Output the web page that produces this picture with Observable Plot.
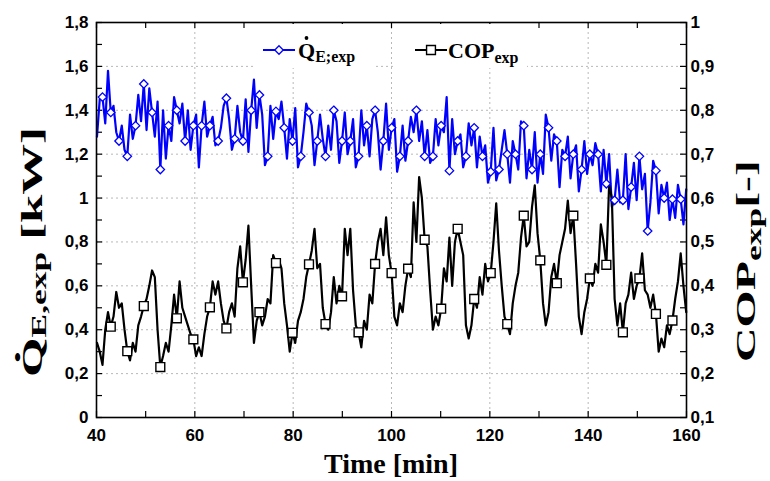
<!DOCTYPE html>
<html><head><meta charset="utf-8">
<script src="https://cdn.jsdelivr.net/npm/d3@7"></script>
<script src="https://cdn.jsdelivr.net/npm/@observablehq/plot@0.6"></script>
<style>html,body{margin:0;padding:0;background:#fff}svg{display:block}</style>
</head><body><div id="chart"></div>
<script>
// ---- data ----
const tStart = 40.1;      // first sample time [min]
const tStep = 0.56;       // sampling step [min]
// Q_E,exp [kW] (left axis)
const qeValues = [
1.28,1.45,1.46, 1.34,1.58,1.39, 1.42,1.30,1.26, 1.33,1.22,1.19, 1.38,1.27,1.33,
1.47,1.35,1.52, 1.31,1.50,1.39, 1.28,1.44,1.13, 1.40,1.18,1.33, 1.26,1.46,1.40,
1.34,1.43,1.26, 1.40,1.22,1.33, 1.38,1.14,1.33, 1.44,1.28,1.33, 1.37,1.24,1.26,
1.32,1.42,1.455, 1.36,1.22,1.27, 1.42,1.30,1.26, 1.45,1.21,1.40, 1.54,1.32,1.47,
1.38,1.15,1.19, 1.42,1.27,1.395, 1.36,1.44,1.32, 1.18,1.36,1.26, 1.41,1.14,1.19,
1.30,1.43,1.39, 1.33,1.15,1.26, 1.38,1.27,1.19, 1.33,1.22,1.40, 1.35,1.16,1.26,
1.39,1.20,1.26, 1.36,1.14,1.19, 1.40,1.24,1.33, 1.19,1.36,1.40, 1.30,1.13,1.26,
1.43,1.22,1.32, 1.36,1.12,1.19, 1.33,1.17,1.26, 1.37,1.30,1.40, 1.26,1.35,1.19,
1.31,1.16,1.19, 1.36,1.24,1.33, 1.30,1.46,1.125, 1.36,1.20,1.26, 1.29,1.14,1.19,
1.34,1.24,1.32, 1.14,1.28,1.19, 1.24,1.07,1.12, 1.32,1.08,1.13, 1.22,1.31,1.20,
1.07,1.26,1.20, 1.13,1.35,1.33, 1.09,1.22,1.13, 1.30,1.07,1.20, 1.11,1.38,1.32,
1.17,1.29,1.26, 1.05,1.22,1.19, 1.28,1.09,1.20, 1.24,1.03,1.13, 1.26,1.11,1.20,
1.15,1.25,1.20, 1.03,1.22,1.065, 1.20,0.96,0.99, 1.13,0.98,0.99, 1.20,0.95,1.05,
1.16,0.99,1.19, 1.04,1.11,0.85, 0.98,1.17,1.125, 0.93,1.06,1.00, 1.07,0.90,0.995,
0.91,1.06,0.995, 0.88,1.04
];
// COP_exp [-] (right axis)
const copValues = [
0.27,0.25,0.22,0.30,0.34,0.307,  0.33,0.386,0.35,0.36,0.30,0.251,
0.23,0.27,0.25,0.31,0.33,0.354,  0.37,0.40,0.435,0.42,0.30,0.215,
0.24,0.27,0.25,0.31,0.38,0.326,  0.41,0.35,0.33,0.31,0.29,0.278,
0.24,0.26,0.24,0.29,0.33,0.351,  0.41,0.38,0.41,0.36,0.32,0.303,
0.34,0.36,0.33,0.44,0.49,0.408,  0.46,0.537,0.40,0.27,0.32,0.34,
0.31,0.33,0.37,0.36,0.47,0.452,  0.46,0.44,0.36,0.31,0.25,0.293,
0.27,0.32,0.34,0.37,0.42,0.449,  0.48,0.53,0.44,0.45,0.35,0.313,
0.30,0.34,0.42,0.36,0.40,0.376,  0.53,0.47,0.53,0.39,0.31,0.294,
0.26,0.32,0.30,0.38,0.36,0.45,   0.50,0.53,0.47,0.556,0.47,0.429,
0.33,0.31,0.36,0.34,0.40,0.439,  0.42,0.59,0.50,0.648,0.60,0.505,
0.49,0.39,0.30,0.33,0.31,0.348,  0.44,0.41,0.51,0.40,0.50,0.53,
0.50,0.47,0.31,0.28,0.31,0.37,   0.35,0.42,0.38,0.45,0.41,0.429,
0.50,0.588,0.48,0.40,0.33,0.313, 0.29,0.36,0.40,0.43,0.51,0.56,
0.49,0.50,0.58,0.629,0.52,0.458, 0.36,0.31,0.34,0.42,0.45,0.406,
0.47,0.50,0.53,0.594,0.52,0.56,  0.45,0.33,0.29,0.34,0.37,0.417,
0.40,0.45,0.43,0.54,0.50,0.448,  0.63,0.60,0.37,0.31,0.36,0.294,
0.36,0.38,0.43,0.37,0.40,0.417,  0.474,0.39,0.38,0.35,0.38,0.336,
0.25,0.28,0.26,0.31,0.29,0.321,  0.37,0.41,0.474,0.40,0.34
];
const xTickLabels = [40, 60, 80, 100, 120, 140, 160];
const xMinorTicks = [40, 50, 60, 70, 80, 90, 100, 110, 120, 130, 140, 150, 160];
const xGrid = [60, 80, 100, 120, 140];
const yTickLabels = [0, 0.2, 0.4, 0.6, 0.8, 1, 1.2, 1.4, 1.6, 1.8];
const yMinorTicks = [0,0.1,0.2,0.3,0.4,0.5,0.6,0.7,0.8,0.9,1,1.1,1.2,1.3,1.4,1.5,1.6,1.7,1.8];
const yGrid = [0.2, 0.4, 0.6, 0.8, 1, 1.2, 1.4, 1.6];

// right axis: COP 0.1 … 1 shares the left axis range 0 … 1.8
const copToQ = c => (c - 0.1) * 2;
const qToCop = q => 0.1 + q / 2;
const comma = v => String(+v.toFixed(2)).replace(".", ",");

const qe = qeValues.map((v, i) => ({i, t: tStart + i * tStep, v}));
const cop = copValues.map((v, i) => ({i, t: tStart + i * tStep, v}));

const W = 770, H = 481, mL = 96, mR = 84, mT = 22, mB = 64;
const innerW = W - mL - mR, innerH = H - mT - mB;
const gridStyle = {stroke: "#b8b8b8", strokeOpacity: 1, strokeDasharray: "2,3", strokeWidth: 1};

const plot = Plot.plot({
  width: W, height: H,
  marginLeft: mL, marginRight: mR, marginTop: mT, marginBottom: mB,
  style: {fontFamily: "'Liberation Sans', Arial, sans-serif", fontSize: "17px", fontWeight: "bold", color: "black", background: "white"},
  x: {domain: [40, 160]},
  y: {domain: [0, 1.8]},
  marks: [
    Plot.gridX(xGrid, gridStyle),
    Plot.gridY(yGrid, gridStyle),
    Plot.tickX(xMinorTicks, {x: d => d, insetTop: innerH - 6, stroke: "black", strokeWidth: 1.2}),
    Plot.tickX(xMinorTicks, {x: d => d, insetBottom: innerH - 6, stroke: "black", strokeWidth: 1.2}),
    Plot.tickY(yMinorTicks, {y: d => d, insetRight: innerW - 6, stroke: "black", strokeWidth: 1.2}),
    Plot.tickY(yMinorTicks, {y: d => d, insetLeft: innerW - 6, stroke: "black", strokeWidth: 1.2}),
    Plot.line(qe, {x: "t", y: "v", stroke: "#0000ff", strokeWidth: 2.2}),
    Plot.line(cop, {x: "t", y: d => copToQ(d.v), stroke: "black", strokeWidth: 2.2}),
    Plot.dot(qe.filter(d => d.i % 3 === 2), {x: "t", y: "v", symbol: "diamond2", r: 3.8, stroke: "#0000ff", fill: "white", strokeWidth: 1.3}),
    Plot.dot(cop.filter(d => d.i % 6 === 5), {x: "t", y: d => copToQ(d.v), symbol: "square", r: 5, stroke: "black", fill: "white", strokeWidth: 1.4}),
    Plot.frame({stroke: "black", strokeWidth: 1.6}),
    Plot.axisX({ticks: xTickLabels, tickSize: 0, tickPadding: 11, tickFormat: d => String(d), label: null}),
    Plot.axisY({ticks: yTickLabels, tickSize: 0, tickPadding: 8, tickFormat: comma, label: null}),
    Plot.axisY({anchor: "right", ticks: yTickLabels, tickSize: 0, tickPadding: 4, tickFormat: q => comma(qToCop(q)), label: null})
  ]
});
document.getElementById("chart").appendChild(plot);

// ---- titles & legend (rich text with subscripts) ----
const svg = d3.select(plot);
const xs = plot.scale("x");
const serif = "'Liberation Serif', 'Times New Roman', serif";

// x title
svg.append("text").attr("x", xs.apply(100)).attr("y", 473)
  .attr("text-anchor", "middle").attr("font-family", serif).attr("font-weight", "bold")
  .attr("font-size", 28).attr("fill", "black").text("Time [min]");

function rotTitle(cx, cy, targetLen, build) {
  const g = svg.append("g").attr("transform", `translate(${cx},${cy})`);
  const inner = g.append("g");
  const t = inner.append("text").attr("text-anchor", "middle").attr("font-family", serif)
    .attr("font-weight", "bold").attr("fill", "black");
  build(t);
  const w = t.node().getBBox().width;
  const k = targetLen / w;
  inner.attr("transform", `scale(1,${k}) rotate(-90)`);
}
// left title: Q̇E,exp [kW]
rotTitle(42, 252, 250, t => {
  t.attr("font-size", 30);
  t.append("tspan").text("Q");
  t.append("tspan").attr("font-size", 18).attr("dx", -14.8).attr("dy", -18).text("•");
  t.append("tspan").attr("font-size", 21).attr("dx", 8.5).attr("dy", 22).text("E,exp");
  t.append("tspan").attr("dx", 7).attr("dy", -4).text("[kW]");
});
// right title: COPexp[-]
rotTitle(755, 261, 202, t => {
  t.attr("font-size", 27);
  t.append("tspan").text("COP");
  t.append("tspan").attr("font-size", 20).attr("dy", 6).text("exp");
  t.append("tspan").attr("dy", -6).text("[-]");
});

// legend
const lg = svg.append("g");
lg.append("rect").attr("x", 255).attr("y", 24).attr("width", 119).attr("height", 44).attr("fill", "white");
lg.append("rect").attr("x", 394).attr("y", 24).attr("width", 133).attr("height", 44).attr("fill", "white");
lg.append("line").attr("x1", 263).attr("x2", 295).attr("y1", 50).attr("y2", 50).attr("stroke", "#0000ff").attr("stroke-width", 2);
lg.append("path").attr("d", d3.symbol(d3.symbolDiamond2, Math.PI * 3.8 * 3.8)()).attr("transform", "translate(279,50)")
  .attr("fill", "white").attr("stroke", "#0000ff").attr("stroke-width", 1.3);
const l1 = lg.append("text").attr("x", 298).attr("y", 58).attr("text-anchor", "start").attr("font-family", serif).attr("font-weight", "bold").attr("font-size", 22).attr("fill", "black");
l1.append("tspan").text("Q");
l1.append("tspan").attr("font-size", 16).attr("dy", 4).text("E;exp");
// dot accent over the legend Q
lg.append("circle").attr("cx", 306.5).attr("cy", 38).attr("r", 1.9).attr("fill", "black");
lg.append("line").attr("x1", 415).attr("x2", 447).attr("y1", 50).attr("y2", 50).attr("stroke", "black").attr("stroke-width", 2);
lg.append("path").attr("d", d3.symbol(d3.symbolSquare, Math.PI * 5 * 5)()).attr("transform", "translate(431,50)")
  .attr("fill", "white").attr("stroke", "black").attr("stroke-width", 1.4);
const l2 = lg.append("text").attr("x", 448).attr("y", 58).attr("text-anchor", "start").attr("font-family", serif).attr("font-weight", "bold").attr("font-size", 22).attr("fill", "black");
l2.append("tspan").text("COP");
l2.append("tspan").attr("font-size", 16).attr("dy", 5).text("exp");
</script>
</body></html>
